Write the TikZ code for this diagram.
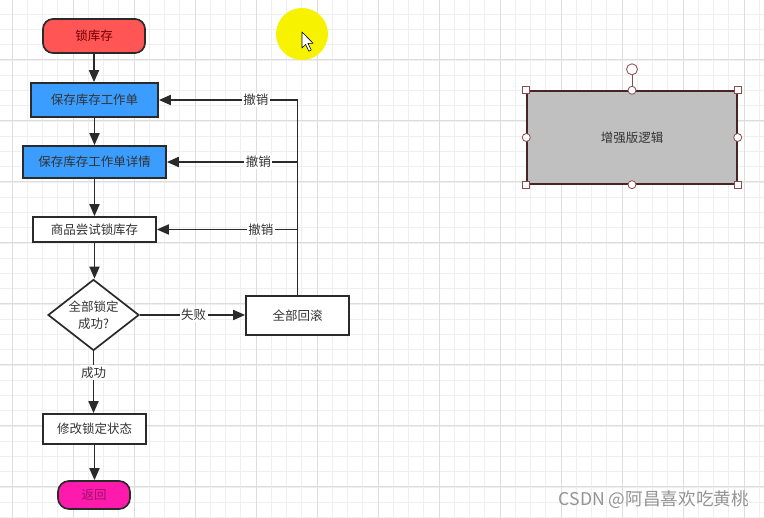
\documentclass[tikz,border=0pt]{standalone}
\usepackage{fontspec}
\newfontfamily\cjk{Noto Sans CJK SC}
\usetikzlibrary{arrows.meta,shapes.geometric}
\definecolor{linec}{HTML}{2A2A2A}
\definecolor{textc}{HTML}{333333}
\definecolor{redc}{HTML}{FF5555}
\definecolor{bluec}{HTML}{3B9DFF}
\definecolor{magc}{HTML}{FF1AAE}
\definecolor{grayc}{HTML}{C0C0C0}
\definecolor{minorg}{HTML}{EFEFEF}
\definecolor{majorg}{HTML}{DDDDDD}
\definecolor{handc}{HTML}{8E4A4A}
\definecolor{yel}{HTML}{F6F200}
\tikzset{
  txt/.style={font=\cjk\fontsize{12.5}{16.5}\selectfont, text=textc},
  box/.style={txt, draw=linec, line width=1.7pt, inner sep=0pt, rectangle},
  term/.style={box, rounded corners=10pt},
  conn/.style={draw=linec, line width=1.8pt},
  arr/.style={conn, -{Triangle[length=12pt,width=10pt]}},
  lbl/.style={txt, fill=white, inner sep=1.5pt},
  handle/.style={fill=white, draw=handc, line width=0.8pt}
}
\begin{document}
\begin{tikzpicture}[x=1pt,y=-1pt]
\useasboundingbox (0,0) rectangle (764,518);
\fill[white] (0,0) rectangle (764,518);
% grid
\begin{scope}
\clip (0,0) rectangle (764,518);
\foreach \i in {0,...,51} \draw[minorg, line width=0.6pt] ({12-15.25+15.25*\i},0) -- ({12-15.25+15.25*\i},518);
\foreach \i in {0,...,35} \draw[minorg, line width=0.6pt] (0,{-1+15.25*\i}) -- (764,{-1+15.25*\i});
\foreach \k in {0,...,12} \draw[majorg, line width=1pt] ({12+61*\k},0) -- ({12+61*\k},518);
\foreach \k in {0,...,9} \draw[majorg, line width=1pt] (0,{-1+61*\k}) -- (764,{-1+61*\k});
\end{scope}
% cursor highlight
\fill[yel] (302,34) circle[radius=26];
\filldraw[fill=white, draw=black, line width=0.6pt, line join=round] (302,32) -- ++(0,16) -- ++(3.6,-3.6) -- ++(3.2,6.8) -- ++(2.4,-1.2) -- ++(-3.2,-6.6) -- ++(5.2,0) -- cycle;
% nodes
\node[term, fill=redc, minimum width=102pt, minimum height=34pt, text=red!45!black] (lock) at (94,36) {锁库存};
\node[box, fill=bluec, minimum width=127pt, minimum height=34pt] (save) at (94.5,100) {保存库存工作单};
\node[box, fill=bluec, minimum width=143pt, minimum height=32pt] (detail) at (94.5,162) {保存库存工作单详情};
\node[box, fill=white, minimum width=123pt, minimum height=25pt] (try) at (94.5,229.5) {商品尝试锁库存};
\node[draw=linec, line width=1.7pt, fill=white, diamond, inner sep=0pt, minimum width=91pt, minimum height=71pt,
  label={[txt, align=center]center:全部锁定\\成功?}] (dec) at (93.5,315) {};
\node[box, fill=white, minimum width=103pt, minimum height=39pt] (roll) at (297.5,315.5) {全部回滚};
\node[box, fill=white, minimum width=103pt, minimum height=30pt] (mod) at (94.5,429) {修改锁定状态};
\node[term, fill=magc, minimum width=72pt, minimum height=28pt, rounded corners=11pt, text=magc!60!black] (ret) at (94,495) {返回};
% main flow
\draw[arr] (lock.south) -- (lock.south |- save.north);
\draw[arr] (save.south) -- (save.south |- detail.north);
\draw[arr] (detail.south) -- (detail.south |- try.north);
\draw[arr] (try.south) -- (try.south |- dec.north);
\draw[arr] (dec.east) -- node[lbl, pos=0.51] {失败} (dec.east -| roll.west);
\draw[arr] (dec.south) -- node[lbl, pos=0.34] {成功} (dec.south |- mod.north);
\draw[arr] (mod.south) -- (mod.south |- ret.north);
% rollback
\coordinate (c1) at (roll.north |- save.east);
\coordinate (c2) at (roll.north |- detail.east);
\coordinate (c3) at (roll.north |- try.east);
\draw[conn] (roll.north) -- (c1);
\draw[arr] (c1) -- node[lbl, pos=0.30] {撤销} (save.east);
\draw[arr] (c2) -- node[lbl, pos=0.30] {撤销} (detail.east);
\draw[arr] (c3) -- node[lbl, pos=0.26] {撤销} (try.east);
% enhanced logic selected shape
\node[box, fill=grayc, draw=linec!85!red, line width=1.4pt, minimum width=210pt, minimum height=93pt] (enh) at (632,137.5) {增强版逻辑};
\draw[handc, line width=0.8pt] (enh.north) -- ++(0,-15.5);
\filldraw[handle] (enh.north) ++(0,-21) circle[radius=5.5];
\foreach \a in {north west, north east, south west, south east}
  \filldraw[handle] (enh.\a) ++(-3.5,-3.5) rectangle ++(7,7);
\foreach \a in {north, south, east, west}
  \filldraw[handle] (enh.\a) circle[radius=4];
% watermark
\node[anchor=east, inner sep=0pt, font=\cjk\fontsize{17.6}{21}\selectfont, text=black!42] (wm) at (749,500) {CSDN @阿昌喜欢吃黄桃};
\end{tikzpicture}
\end{document}
